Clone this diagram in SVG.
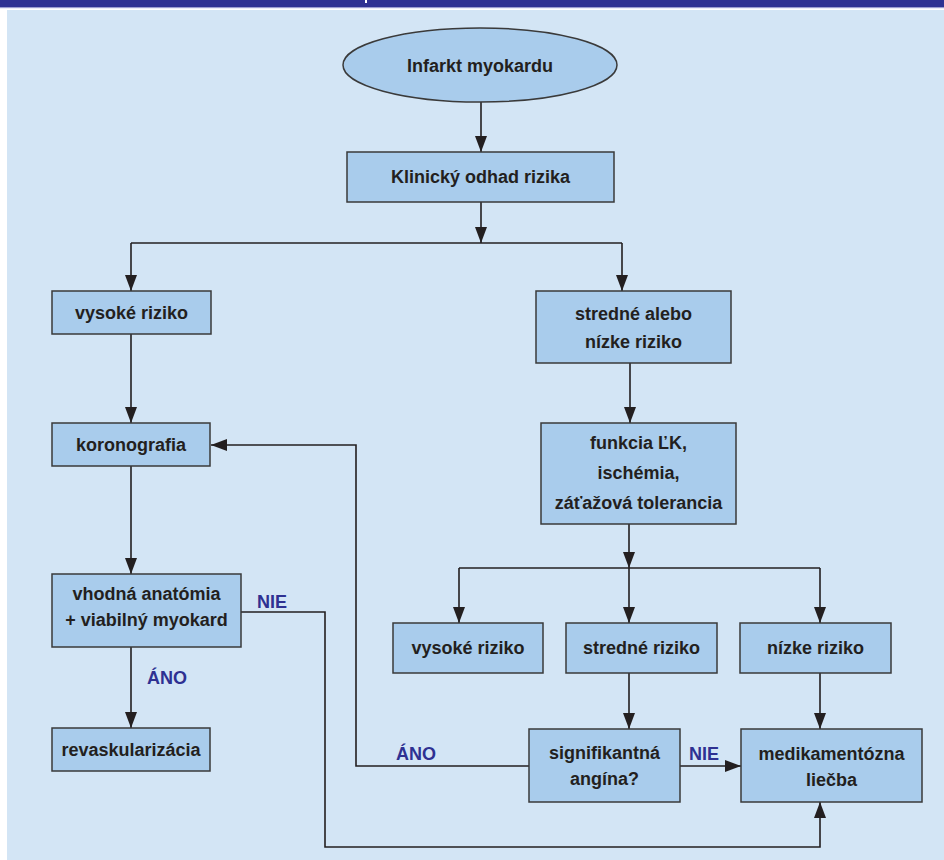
<svg xmlns="http://www.w3.org/2000/svg" width="944" height="860" viewBox="0 0 944 860">
<style>
.node rect,.node ellipse{fill:#A9CCEC;stroke:#3A3A3A;stroke-width:1.5}
.node text{font-family:"Liberation Sans",Arial,sans-serif;font-weight:bold;font-size:18px;fill:#231F20;text-anchor:middle}
.lbl{font-family:"Liberation Sans",Arial,sans-serif;font-weight:bold;font-size:18px;fill:#2E3192}
#connectors path{fill:none;stroke:#231F20;stroke-width:1.6}
</style>
<defs>
<marker id="ah" markerUnits="userSpaceOnUse" markerWidth="16" markerHeight="12" refX="16" refY="6" orient="auto">
<path d="M0,0 L16,6 L0,12 z" fill="#231F20"/>
</marker>
</defs>
<rect x="0" y="0" width="944" height="860" fill="#FFFFFF"/>
<rect x="0" y="0" width="944" height="7" fill="#2E3192"/>
<rect x="0" y="7" width="944" height="1.2" fill="#9A9CD0"/>
<rect x="365" y="0" width="2" height="3" fill="#FFFFFF"/>
<rect x="7" y="10" width="937" height="850" fill="#D3E5F5"/>

<g id="connectors">
<path d="M481,102 V152" marker-end="url(#ah)"/>
<path d="M481,202 V243" marker-end="url(#ah)"/>
<path d="M131,243 H622"/>
<path d="M131,243 V291" marker-end="url(#ah)"/>
<path d="M622,243 V291" marker-end="url(#ah)"/>
<path d="M131,334 V423" marker-end="url(#ah)"/>
<path d="M131,466 V574" marker-end="url(#ah)"/>
<path d="M131,647 V728" marker-end="url(#ah)"/>
<path d="M241,612 H325 V847 H820 V802" marker-end="url(#ah)"/>
<path d="M630,363 V423" marker-end="url(#ah)"/>
<path d="M629,524 V568" marker-end="url(#ah)"/>
<path d="M459,568 H820"/>
<path d="M459,568 V623" marker-end="url(#ah)"/>
<path d="M629,568 V623" marker-end="url(#ah)"/>
<path d="M820,568 V623" marker-end="url(#ah)"/>
<path d="M629,673 V729" marker-end="url(#ah)"/>
<path d="M820,673 V729" marker-end="url(#ah)"/>
<path d="M680,766 H741" marker-end="url(#ah)"/>
<path d="M529,766 H356 V445 H211" marker-end="url(#ah)"/>
</g>

<g id="labels">
<text class="lbl" x="257" y="608">NIE</text>
<text class="lbl" x="147" y="684">ÁNO</text>
<text class="lbl" x="396" y="760">ÁNO</text>
<text class="lbl" x="689" y="760">NIE</text>
</g>

<g id="n-infarkt" class="node">
<ellipse cx="480" cy="65" rx="137" ry="37"/>
<text x="480" y="72">Infarkt myokardu</text>
</g>
<g id="n-klinicky" class="node">
<rect x="347" y="152" width="267" height="50"/>
<text x="480.5" y="183">Klinický odhad rizika</text>
</g>
<g id="n-vysoke1" class="node">
<rect x="52" y="291" width="159" height="43"/>
<text x="131.5" y="319">vysoké riziko</text>
</g>
<g id="n-stredne-nizke" class="node">
<rect x="536" y="291" width="195" height="72"/>
<text x="633.5" y="320">stredné alebo</text>
<text x="633.5" y="348">nízke riziko</text>
</g>
<g id="n-koronografia" class="node">
<rect x="52" y="423" width="158" height="43"/>
<text x="131" y="451">koronografia</text>
</g>
<g id="n-funkcia" class="node">
<rect x="541" y="423" width="195" height="101"/>
<text x="638.5" y="449">funkcia ĽK,</text>
<text x="638.5" y="479">ischémia,</text>
<text x="638.5" y="509">záťažová tolerancia</text>
</g>
<g id="n-vhodna" class="node">
<rect x="52" y="574" width="189" height="73"/>
<text x="146.5" y="600">vhodná anatómia</text>
<text x="146.5" y="626">+ viabilný myokard</text>
</g>
<g id="n-vysoke2" class="node">
<rect x="393" y="623" width="150" height="50"/>
<text x="468" y="654">vysoké riziko</text>
</g>
<g id="n-stredne" class="node">
<rect x="566" y="623" width="151" height="50"/>
<text x="641.5" y="654">stredné riziko</text>
</g>
<g id="n-nizke" class="node">
<rect x="740" y="623" width="151" height="50"/>
<text x="815.5" y="654">nízke riziko</text>
</g>
<g id="n-revask" class="node">
<rect x="52" y="728" width="158" height="43"/>
<text x="131" y="756">revaskularizácia</text>
</g>
<g id="n-signif" class="node">
<rect x="529" y="729" width="151" height="73"/>
<text x="604.5" y="759">signifikantná</text>
<text x="604.5" y="785">angína?</text>
</g>
<g id="n-medik" class="node">
<rect x="741" y="729" width="181" height="73"/>
<text x="831.5" y="760">medikamentózna</text>
<text x="831.5" y="786">liečba</text>
</g>
</svg>
